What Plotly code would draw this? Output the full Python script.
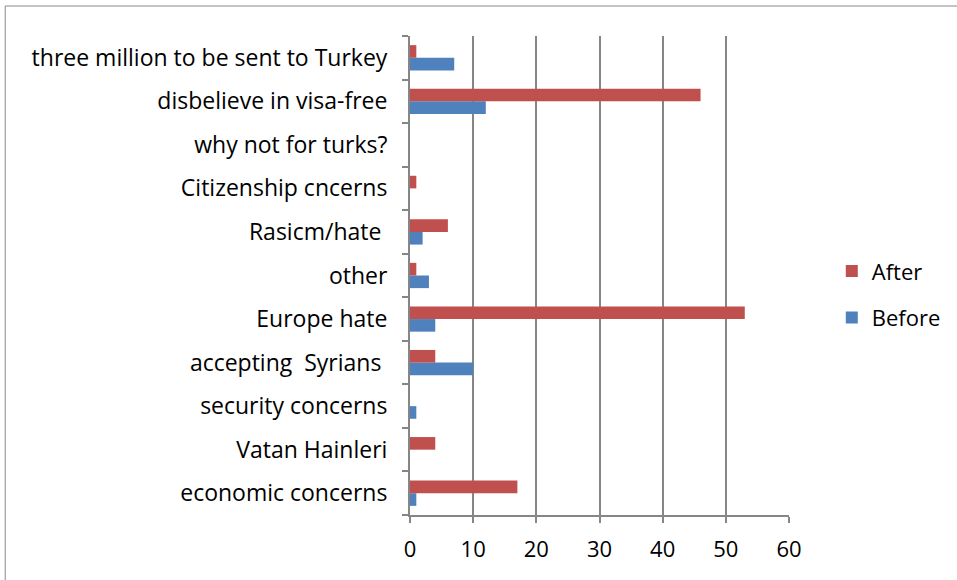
import plotly.graph_objects as go

categories = ["economic concerns", "Vatan Hainleri", "security concerns", "accepting  Syrians ",
              "Europe hate", "other", "Rasicm/hate ", "Citizenship cncerns", "why not for turks?",
              "disbelieve in visa-free", "three million to be sent to Turkey"]
before = [1, 0, 1, 10, 4, 3, 2, 0, 0, 12, 7]
after = [17, 4, 0, 4, 53, 1, 6, 1, 0, 46, 1]
x_ticks = [0, 10, 20, 30, 40, 50, 60]

FONT = "Open Sans"

fig = go.Figure()
fig.add_trace(go.Bar(y=categories, x=before, name="Before", orientation="h", legendgroup="b",
                     legendrank=2, marker=dict(color="#4F81BD", line=dict(width=0))))
fig.add_trace(go.Bar(y=categories, x=after, name="After", orientation="h", legendgroup="a",
                     legendrank=1, marker=dict(color="#C0504D", line=dict(width=0))))

fig.update_layout(
    width=957, height=580,
    margin=dict(l=410, r=167, t=36, b=65),
    paper_bgcolor="white", plot_bgcolor="white",
    barmode="group", bargap=0.42, bargroupgap=0,
    font=dict(family=FONT, size=22, color="black"),
    showlegend=True,
    legend=dict(x=1.11, y=0.46, xanchor="left", yanchor="middle",
                traceorder="grouped", font=dict(size=22),
                itemwidth=30, tracegroupgap=15),
    xaxis=dict(range=[0, 60], tickvals=x_ticks, showgrid=True, gridcolor="#868686",
               gridwidth=2, showline=True, linecolor="#868686", linewidth=2,
               ticks="outside", ticklen=6, tickcolor="#868686", tickwidth=2,
               zeroline=False, tickfont=dict(size=22), ticklabelstandoff=8),
    yaxis=dict(categoryorder="array", categoryarray=categories, showline=True,
               linecolor="#868686", linewidth=2, ticks="outside", ticklen=6,
               tickcolor="#868686", tickwidth=2, tickson="boundaries",
               showgrid=False, tickfont=dict(size=23), ticklabelstandoff=16),
    shapes=[dict(type="rect", xref="paper", yref="paper", x0=-1.068, x1=1.6,
                 y0=-0.2, y1=1.0626, line=dict(color="#888888", width=1),
                 layer="below")],
)

fig.write_html("out.html", config={"displayModeBar": False},
               post_script="document.body.style.margin='0';")
